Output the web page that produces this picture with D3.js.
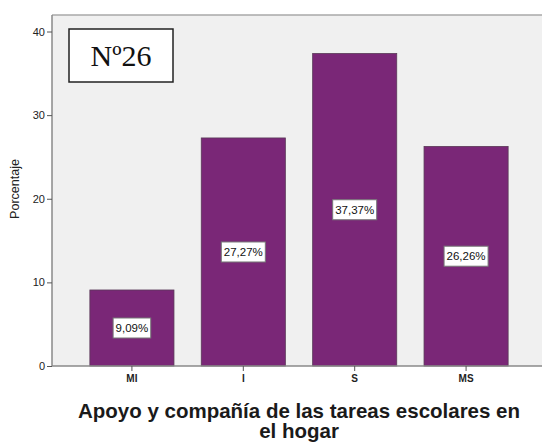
<!DOCTYPE html>
<html lang="es">
<head>
<meta charset="UTF-8">
<title>Nº26</title>
<script src="https://d3js.org/d3.v7.min.js"></script>
<style>
  body { margin: 0; background: #fff; }
  text { font-family: Arial, "Liberation Sans", sans-serif; }
</style>
</head>
<body>
<script>
  // data
  var categories = ["MI", "I", "S", "MS"];
  var values = [9.09, 27.27, 37.37, 26.26];
  var valueLabels = ["9,09%", "27,27%", "37,37%", "26,26%"];
  var yTicks = [0, 10, 20, 30, 40];

  var width = 542, height = 443;
  // plot box (note: "top" is taken by window.top, so use plotTop)
  var plotLeft = 52, plotTop = 15, plotRight = 546, plotBottom = 366;

  var svg = d3.select("body").append("svg")
      .attr("width", width).attr("height", height);

  // plot background
  svg.append("rect")
      .attr("x", plotLeft).attr("y", plotTop)
      .attr("width", plotRight - plotLeft).attr("height", plotBottom - plotTop)
      .attr("fill", "#f0f0f0");
  svg.append("line")
      .attr("x1", plotLeft).attr("x2", plotRight).attr("y1", plotTop).attr("y2", plotTop)
      .attr("stroke", "#a8a8a8").attr("stroke-width", 1.5);

  var x = d3.scaleBand()
      .domain(categories)
      .range([plotLeft, plotRight])
      .paddingInner(0.245)
      .paddingOuter(0.34);

  var y = d3.scaleLinear()
      .domain([0, 40])
      .range([plotBottom, plotBottom - 334.5]);

  var data = categories.map(function(c, i) {
    return { name: c, value: values[i], label: valueLabels[i] };
  });

  // bars
  svg.append("g").selectAll("rect")
      .data(data)
      .enter()
      .append("rect")
      .attr("x", function(d) { return x(d.name); })
      .attr("y", function(d) { return y(d.value); })
      .attr("width", x.bandwidth())
      .attr("height", function(d) { return y(0) - y(d.value); })
      .attr("fill", "#7a2777")
      .attr("stroke", "#5a3a58")
      .attr("stroke-width", 0.8);

  // axes
  var axisY = svg.append("g")
      .attr("transform", "translate(" + plotLeft + ",0)")
      .call(d3.axisLeft(y).tickValues(yTicks).tickSize(5).tickPadding(2));
  var axisX = svg.append("g")
      .attr("transform", "translate(0," + plotBottom + ")")
      .call(d3.axisBottom(x).tickSize(5).tickPadding(4).tickSizeOuter(0));

  [axisY, axisX].forEach(function(a) {
    a.select(".domain").attr("stroke", "#8a8a8a").attr("stroke-width", 1.5);
    a.selectAll(".tick line").attr("stroke", "#555");
    a.selectAll(".tick text").attr("fill", "#222")
        .style("font-family", "Arial, 'Liberation Sans', sans-serif");
  });
  axisY.select(".domain").attr("d", "M0," + plotTop + "V" + plotBottom);
  axisY.selectAll(".tick text").style("font-size", "11px");
  axisX.select(".domain").attr("d", "M" + plotLeft + ",0H" + plotRight);
  axisX.selectAll(".tick text").style("font-size", "10px").style("font-weight", "bold");

  // value labels
  var lab = svg.append("g").selectAll("g")
      .data(data)
      .enter()
      .append("g")
      .attr("transform", function(d) {
        return "translate(" + (x(d.name) + x.bandwidth() / 2) + "," + y(d.value / 2) + ")";
      });
  lab.append("text")
      .attr("text-anchor", "middle")
      .attr("dy", "0.35em")
      .style("font-size", "11.5px")
      .attr("fill", "#111")
      .text(function(d) { return d.label; })
      .each(function() {
        var b = this.getBBox();
        d3.select(this.parentNode).insert("rect", "text")
            .attr("x", b.x - 2.5).attr("y", -10)
            .attr("width", b.width + 5).attr("height", 20)
            .attr("fill", "#fff")
            .attr("stroke", "#777").attr("stroke-width", 1);
      });

  // y title
  svg.append("text")
      .attr("transform", "translate(19," + 189 + ") rotate(-90)")
      .attr("text-anchor", "middle")
      .style("font-size", "12.5px")
      .attr("fill", "#222")
      .text("Porcentaje");

  // x title
  var xt = svg.append("text")
      .attr("text-anchor", "middle")
      .style("font-size", "20.5px")
      .style("font-weight", "bold")
      .attr("fill", "#1a1a1a");
  xt.append("tspan").attr("x", 299).attr("y", 418).text("Apoyo y compañía de las tareas escolares en");
  xt.append("tspan").attr("x", 299).attr("y", 438).text("el hogar");

  // box label
  svg.append("rect")
      .attr("x", 69).attr("y", 29)
      .attr("width", 104).attr("height", 53)
      .attr("fill", "#fff")
      .attr("stroke", "#222").attr("stroke-width", 1.5);
  svg.append("text")
      .attr("x", 121).attr("y", 66)
      .attr("text-anchor", "middle")
      .style("font-family", "'Liberation Serif', 'Times New Roman', serif")
      .style("font-size", "30px")
      .attr("fill", "#111")
      .text("Nº26");
</script>
</body>
</html>
